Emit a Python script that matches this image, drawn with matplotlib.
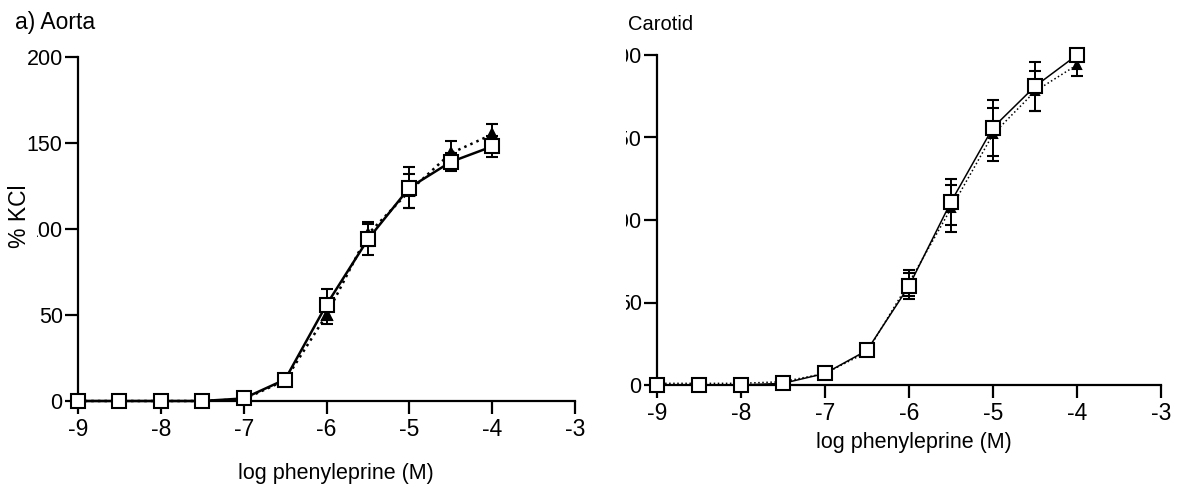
import matplotlib
matplotlib.use('Agg')
import matplotlib.pyplot as plt
from matplotlib.transforms import Bbox, TransformedBbox

plt.rcParams['font.family'] = ['Liberation Sans', 'DejaVu Sans']

# ---- data ----
log_conc = [-9, -8.5, -8, -7.5, -7, -6.5, -6, -5.5, -5, -4.5, -4]

aorta_open = [0, 0, 0, 0, 1.5, 12.5, 56, 94, 124, 139, 148]
aorta_open_sem = [0, 0, 0, 0, 0.5, 2, 9, 9, 12, 5, 6]
aorta_filled = [0, 0, 0, 0, 1, 12, 50, 97, 122, 144, 155]
aorta_filled_sem = [0, 0, 0, 0, 0.5, 2, 5, 7, 10, 7, 6]

carotid_open = [0, 0, 0, 1, 7, 21, 60, 111, 156, 181, 200]
carotid_open_sem = [0, 0, 0, 0, 1, 2, 8, 14, 17, 15, 0]
carotid_filled = [1, 1, 1, 2, 7, 20, 62, 107, 152, 178, 194]
carotid_filled_sem = [0, 0, 0, 0, 1, 2, 8, 14, 16, 12, 7]

x_ticks = [-9, -8, -7, -6, -5, -4, -3]
y_ticks = [0, 50, 100, 150, 200]

W, H = 1178, 490
fig = plt.figure(figsize=(W / 100, H / 100), dpi=100)


def axes_px(x0, x1, ytop, ybot):
    return fig.add_axes([x0 / W, 1 - ybot / H, (x1 - x0) / W, (ybot - ytop) / H])


axL = axes_px(78, 575, 57, 401)
axR = axes_px(657, 1161, 55, 385)


def style(ax):
    ax.set_xlim(-9, -3)
    ax.set_ylim(0, 200)
    ax.set_xticks(x_ticks)
    ax.set_yticks(y_ticks)
    ax.set_xticklabels([str(t) for t in x_ticks])
    for s in ('top', 'right'):
        ax.spines[s].set_visible(False)
    for s in ('left', 'bottom'):
        ax.spines[s].set_linewidth(1.6)
    ax.tick_params(direction='out', length=9.5, width=1.6, color='black')
    ax.tick_params(axis='x', labelsize=16.5, pad=3)
    ax.tick_params(axis='y', labelsize=15.5, pad=1.5)
    ax.patch.set_alpha(0)


def series(ax, y, e, marker, ms, mfc, ls, lw, z):
    cont = ax.errorbar(log_conc, y, yerr=e, marker=marker, ms=ms, mfc=mfc,
                       mec='black', mew=1.5, color='black', ls=ls, lw=lw,
                       ecolor='black', elinewidth=1.4, capsize=4, capthick=1.4,
                       zorder=z)
    for art in cont.get_children():
        art.set_clip_on(False)


style(axL)
style(axR)

series(axL, aorta_filled, aorta_filled_sem, '^', 7.5, 'black', ':', 1.8, 3)
series(axL, aorta_open, aorta_open_sem, 's', 9.5, 'white', '-', 1.8, 4)

series(axR, carotid_filled, carotid_filled_sem, '^', 5.5, 'black', ':', 1.1, 3)
series(axR, carotid_open, carotid_open_sem, 's', 9.5, 'white', '-', 1.1, 4)

fig.text(15 / W, 1 - 22 / H, 'a) Aorta', ha='left', va='center', fontsize=16.5)
fig.text(628 / W, 1 - 25 / H, 'Carotid', ha='left', va='center', fontsize=14.5)

# the y label's white box hides the leading "1" of the 100 tick, as in the reference
fig.text(19 / W, 1 - 216 / H, '% KCl', rotation=90, ha='center', va='center',
         fontsize=16.5, zorder=10,
         bbox=dict(facecolor='white', edgecolor='none', pad=5))

fig.text(336 / W, 1 - 473 / H, 'log phenyleprine (M)', ha='center', va='center',
         fontsize=15.5)
fig.text(914 / W, 1 - 442 / H, 'log phenyleprine (M)', ha='center', va='center',
         fontsize=15.5)

# right panel's y tick labels are cut at the left edge of the panel
fig.canvas.draw()
clip = TransformedBbox(Bbox.from_extents(626 / W, 0, 1, 1), fig.transFigure)
for lab in axR.get_yticklabels():
    lab.set_clip_box(clip)
    lab.set_clip_on(True)

fig.savefig('out.png', dpi=100)
